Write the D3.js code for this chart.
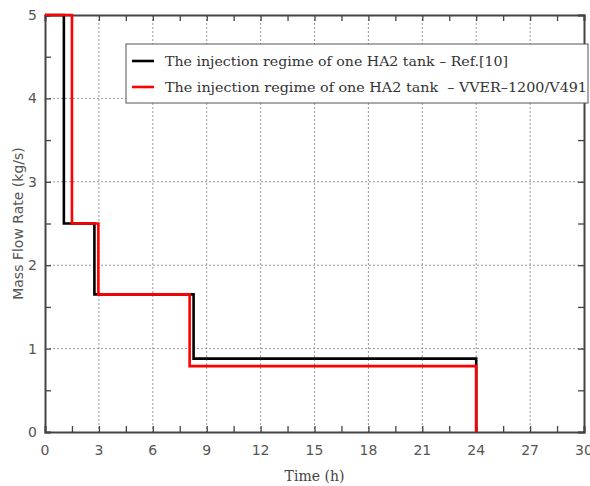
<!DOCTYPE html>
<html><head><meta charset="utf-8">
<script src="https://cdn.jsdelivr.net/npm/d3@7"></script>
<style>body{margin:0;background:#fff} text{white-space:pre}</style>
</head><body>
<svg id="c" width="590" height="486"></svg>
<script>
const refTimes = [0, 1.05, 1.05, 2.75, 2.75, 8.27, 8.27, 24, 24];
const refFlow  = [5, 5, 2.5, 2.5, 1.65, 1.65, 0.88, 0.88, 0];
const vverTimes = [0, 1.5, 1.5, 2.97, 2.97, 8.05, 8.05, 24, 24];
const vverFlow  = [5, 5, 2.5, 2.5, 1.65, 1.65, 0.79, 0.79, 0];
const xTicks = [0,3,6,9,12,15,18,21,24,27,30];
const yTicks = [0,1,2,3,4,5];
const seriesNames = ["The injection regime of one HA2 tank \u2013 Ref.[10]",
                     "The injection regime of one HA2 tank  \u2013 VVER\u20131200/V491"];
const seriesColors = ["#000000", "#ff0000"];

const svg = d3.select("#c");
const L = 45, R = 584, T = 15, B = 432;
const x = d3.scaleLinear().domain([0,30]).range([L,R]);
const y = d3.scaleLinear().domain([0,5]).range([B,T]);
const tickFont = "DejaVu Sans";

// grid
const g = svg.append("g");
g.selectAll(".gx").data(xTicks.slice(1,-1)).enter().append("line")
  .attr("x1", d=>x(d)).attr("x2", d=>x(d)).attr("y1", T).attr("y2", B)
  .attr("stroke","#999").attr("stroke-width",1).attr("stroke-dasharray","2,2");
g.selectAll(".gy").data(yTicks.slice(1,-1)).enter().append("line")
  .attr("y1", d=>y(d)).attr("y2", d=>y(d)).attr("x1", L).attr("x2", R)
  .attr("stroke","#999").attr("stroke-width",1).attr("stroke-dasharray","2,2");

// axes (ticks inward) with minor ticks
const xMinor = d3.range(0, 30.01, 1.5);
const yMinor = d3.range(0, 5.01, 0.5);
const axB = d3.axisBottom(x).tickValues(xMinor).tickSize(-6).tickFormat("");
const axT = d3.axisTop(x).tickValues(xMinor).tickSize(-6).tickFormat("");
const axL = d3.axisLeft(y).tickValues(yMinor).tickSize(-6).tickFormat("");
const axR = d3.axisRight(y).tickValues(yMinor).tickSize(-6).tickFormat("");
function style(sel){ sel.selectAll("path,line").attr("stroke","#444").attr("stroke-width",1.3); sel.select("path").attr("stroke-width",2); }
svg.append("g").attr("transform",`translate(0,${B})`).call(axB).call(style);
svg.append("g").attr("transform",`translate(0,${T})`).call(axT).call(style);
svg.append("g").attr("transform",`translate(${L},0)`).call(axL).call(style);
svg.append("g").attr("transform",`translate(${R},0)`).call(axR).call(style);

// tick labels
svg.append("g").selectAll("text").data(xTicks).enter().append("text")
  .attr("x", d=>x(d)).attr("y", B+23).attr("text-anchor","middle")
  .attr("font-family",tickFont).attr("font-size",14).attr("fill","#555").text(d=>d);
svg.append("g").selectAll("text").data(yTicks).enter().append("text")
  .attr("x", L-8).attr("y", d=>y(d)+5).attr("text-anchor","end")
  .attr("font-family",tickFont).attr("font-size",14).attr("fill","#555").text(d=>d);

svg.append("text").attr("x",(L+R)/2).attr("y",481).attr("text-anchor","middle")
  .attr("font-family","DejaVu Serif").attr("font-size",14).attr("fill","#444").text("Time (h)");
svg.append("text").attr("transform",`translate(23,${(T+B)/2}) rotate(-90)`).attr("text-anchor","middle")
  .attr("font-family",tickFont).attr("font-size",14).attr("fill","#555").text("Mass Flow Rate (kg/s)");

// lines
const line = d3.line().x(d=>x(d[0])).y(d=>y(d[1]));
const s1 = refTimes.map((t,i)=>[t, refFlow[i]]);
const s2 = vverTimes.map((t,i)=>[t, vverFlow[i]]);
[s1,s2].forEach((s,i)=>{
  svg.append("path").datum(s).attr("d",line).attr("fill","none")
    .attr("stroke",seriesColors[i]).attr("stroke-width",2.6).attr("stroke-linejoin","miter");
});

// legend
const lg = svg.append("g");
lg.append("rect").attr("x",126).attr("y",44).attr("width",462).attr("height",59)
  .attr("fill","#fff").attr("stroke","#555").attr("stroke-width",1);
seriesNames.forEach((n,i)=>{
  const yy = 61 + i*26;
  lg.append("line").attr("x1",132).attr("x2",154).attr("y1",yy).attr("y2",yy)
    .attr("stroke",seriesColors[i]).attr("stroke-width",2.6);
  lg.append("text").attr("x",165).attr("y",yy+5).attr("font-family","DejaVu Serif")
    .attr("font-size",13).attr("fill","#333").attr("textLength", i===0?343:422).attr("lengthAdjust","spacingAndGlyphs").text(n);
});
</script>
</body></html>
